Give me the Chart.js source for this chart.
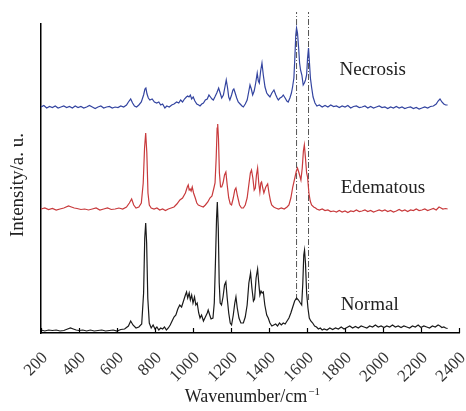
<!DOCTYPE html>
<html><head><meta charset="utf-8">
<script src="https://cdn.jsdelivr.net/npm/chart.js@4/dist/chart.umd.min.js"></script>
<style>html,body{margin:0;padding:0;background:#fff}#wrap{width:466px;height:411px}</style>
</head><body><div id="wrap"><canvas id="c" width="466" height="411"></canvas></div>
<script>
const tickValues = [200,400,600,800,1000,1200,1400,1600,1800,2000,2200,2400];
const tickLabels = ['200','400','600','800','1000','1200','1400','1600','1800','2000','2200','2400'];
const seriesNames = ['Necrosis','Edematous','Normal'];
const xTitle = 'Wavenumber/cm';
const xTitleSup = '\u22121';
const yTitle = 'Intensity/a. u.';
const markerWavenumbers = [1545, 1608];
const markerSpan = [33, 321];

const normal = [[200,3],[220,2],[240,3],[260,2.5],[280,3],[300,2],[320,2.5],[340,4],[355,5],[370,4],[385,3],[400,2.5],[420,3],[440,2],[460,3],[480,2],[500,2.5],[520,3],[540,2],[560,2.5],[580,3],[600,2],[620,3.5],[640,4],[660,7],[672,12],[684,8],[700,5],[715,6],[730,9],[740,40],[746,95],[751,110],[756,90],[762,35],[770,10],[780,5],[790,8],[800,4],[810,6],[820,3],[830,5],[840,4],[850,6],[860,3],[870,5],[880,8],[890,12],[900,16],[910,18],[920,24],[930,28],[940,26],[950,32],[960,38],[966,41],[972,35],[980,40],[986,33],[993,38],[1000,30],[1008,36],[1015,28],[1022,30],[1030,20],[1037,15],[1045,18],[1055,12],[1065,16],[1075,20],[1080,23],[1088,18],[1095,14],[1105,15],[1112,30],[1118,70],[1124,115],[1128,131],[1133,105],[1138,50],[1143,30],[1150,28],[1158,36],[1166,48],[1173,51],[1180,35],[1188,20],[1196,10],[1203,8],[1212,18],[1220,30],[1226,36],[1233,25],[1242,15],[1252,10],[1265,10],[1275,16],[1285,28],[1294,50],[1303,60],[1310,45],[1318,32],[1324,34],[1332,55],[1340,64],[1346,50],[1352,38],[1358,42],[1364,40],[1370,41],[1378,28],[1388,18],[1396,15],[1405,10],[1415,7],[1425,8],[1435,9],[1445,7],[1455,10],[1465,8],[1475,10],[1485,9],[1495,12],[1505,15],[1515,20],[1525,26],[1535,32],[1545,35],[1555,33],[1565,30],[1572,28],[1578,50],[1583,78],[1587,83],[1592,70],[1598,40],[1605,25],[1612,15],[1620,12],[1630,10],[1640,7],[1650,6],[1660,4],[1670,5],[1680,3],[1690,4],[1705,3],[1720,5],[1735,3.5],[1750,5],[1765,4],[1780,6],[1795,4],[1810,5.5],[1825,7],[1840,5],[1855,6.5],[1870,5],[1885,7],[1900,6],[1915,5],[1930,7],[1945,6],[1960,8],[1975,6],[1990,7],[2005,5.5],[2020,7],[2035,6],[2050,8],[2065,6],[2080,7],[2095,5.5],[2110,7],[2125,6],[2140,5],[2155,7],[2170,6],[2185,8],[2200,5.5],[2215,7],[2230,6],[2245,5],[2260,7],[2275,6],[2290,8],[2300,7],[2310,5.5],[2320,6],[2330,5],[2340,4.5]];

const edematous = [[200,124],[220,125],[240,123.5],[260,124.5],[280,123],[300,124],[320,125],[345,127],[360,126],[375,125],[390,124.5],[410,123.5],[430,124],[450,123],[470,124],[490,125],[510,123],[530,124],[550,125],[570,123.5],[590,124],[610,125],[630,124],[650,126],[665,130],[677,134],[688,128],[700,125],[715,126],[728,130],[738,150],[745,185],[751,200],[757,180],[763,140],[770,128],[780,125],[795,124],[810,125],[825,123],[840,124],[855,122.5],[870,124],[885,125],[900,126],[915,129],[931,133],[945,135],[960,140],[970,146],[975,148],[980,143],[985,144],[990,142],[996,146],[1003,140],[1012,135],[1020,130],[1028,128],[1040,127],[1054,126],[1065,128],[1078,131],[1089,135],[1100,137],[1110,145],[1116,150],[1122,175],[1127,205],[1130,209],[1134,195],[1139,160],[1145,146],[1151,146],[1158,150],[1166,158],[1173,161],[1180,148],[1188,135],[1196,129],[1203,128],[1212,135],[1220,143],[1226,145],[1234,137],[1245,128],[1255,125],[1265,125],[1275,128],[1285,135],[1295,150],[1302,160],[1308,163],[1315,155],[1322,143],[1328,145],[1334,158],[1340,165],[1346,150],[1352,141],[1357,150],[1361,151],[1367,145],[1373,140],[1383,146],[1393,149],[1400,140],[1408,132],[1414,128],[1425,126],[1435,125],[1450,124],[1465,125],[1480,124],[1495,126],[1505,128],[1515,135],[1525,146],[1537,156],[1544,162],[1550,165],[1558,160],[1568,153],[1575,165],[1581,182],[1586,188],[1592,175],[1598,160],[1603,156],[1610,140],[1617,132],[1624,128],[1635,126],[1645,125],[1651,124],[1665,123],[1680,124],[1695,122.5],[1710,123],[1725,121.5],[1740,122],[1755,121],[1770,122.5],[1785,121],[1800,122],[1815,120.5],[1830,122],[1845,121.5],[1860,123],[1875,121.5],[1890,122],[1905,123],[1920,121.5],[1935,122.5],[1950,121],[1965,122],[1980,123],[1995,122],[2010,123],[2025,121.5],[2040,122.5],[2055,121],[2070,122],[2085,123.5],[2100,122],[2115,123],[2130,121.5],[2145,123],[2160,122.5],[2175,124],[2190,122.5],[2205,123],[2220,124],[2235,122.5],[2250,123.5],[2265,124.5],[2280,123],[2295,126],[2305,125],[2315,124],[2330,124.5],[2340,124]];

const necrosis = [[200,226],[215,227.5],[230,225],[245,226.5],[260,225.5],[275,227],[290,225],[305,226],[320,227],[335,225.5],[350,226.5],[365,225],[380,227],[395,225.5],[410,226.5],[425,225],[440,226],[455,227.5],[470,226],[485,224.5],[500,226],[515,227],[530,225],[545,226],[560,226.5],[575,225],[590,226],[605,225.5],[620,227],[635,226],[650,228],[660,231],[672,234],[682,230],[692,227],[703,226],[715,228],[728,231],[740,238],[747,244],[752,245],[758,239],[765,235],[773,233],[785,234],[797,231],[809,230],[820,231],[830,228],[840,229],[852,225],[862,227],[875,226],[888,228],[900,229],[914,231],[925,230],[935,233],[945,231],[955,234],[965,236],[972,237],[979,236],[986,238],[993,234],[1001,236],[1010,232],[1020,229],[1030,228],[1037,227],[1046,229],[1055,230],[1065,233],[1075,234],[1084,238],[1092,236],[1100,234],[1107,233],[1115,236],[1125,240],[1135,245],[1143,240],[1151,235],[1160,238],[1168,246],[1175,253],[1182,245],[1188,236],[1194,233],[1203,238],[1210,243],[1215,244],[1222,240],[1230,235],[1238,231],[1248,229],[1258,227],[1265,226],[1275,229],[1285,233],[1292,240],[1300,248],[1307,244],[1314,238],[1322,242],[1330,250],[1338,260],[1344,252],[1349,250],[1356,262],[1363,270],[1370,258],[1379,246],[1388,240],[1396,238],[1405,236],[1415,240],[1426,243],[1436,238],[1443,235],[1449,233],[1458,235],[1467,236],[1475,238],[1485,235],[1494,232],[1501,231],[1510,235],[1518,240],[1524,246],[1531,255],[1536,275],[1541,298],[1545,305],[1550,300],[1556,285],[1561,270],[1566,263],[1573,258],[1580,248],[1586,250],[1592,253],[1598,258],[1603,275],[1608,285],[1613,270],[1618,255],[1624,246],[1632,236],[1642,230],[1652,227],[1665,228],[1680,226],[1695,227.5],[1710,226],[1725,228],[1740,226.5],[1755,227],[1770,225.5],[1785,227],[1800,226],[1815,227.5],[1830,225],[1845,226.5],[1860,227],[1875,225.5],[1890,226],[1905,227],[1920,225],[1935,226.5],[1950,225],[1965,226],[1980,227],[1995,225.5],[2010,226],[2025,224.5],[2040,226],[2055,225],[2070,226.5],[2085,225],[2100,226],[2115,224.5],[2130,225.5],[2145,226],[2160,224.5],[2175,225.5],[2190,224],[2205,225],[2220,226],[2235,225],[2250,226.5],[2265,227],[2280,229],[2290,232],[2300,234],[2310,231],[2320,229],[2330,228],[2340,228]];

const toPts = arr => arr.map(([x, y]) => ({x, y}));
const serif = "'Liberation Serif', 'Times New Roman', serif";

const lineStyle = c => ({borderColor: c, borderWidth: 1.2, pointRadius: 0, tension: 0, fill: false});
const markerDatasets = markerWavenumbers.map(w => ({
  data: [{x: w, y: markerSpan[0]}, {x: w, y: markerSpan[1]}],
  borderColor: '#555', borderWidth: 1, borderDash: [6, 2, 1, 2],
  pointRadius: 0, clip: false, fill: false
}));

const decor = {
  id: 'decor',
  afterDraw(chart) {
    const ctx = chart.ctx, xs = chart.scales.x, ys = chart.scales.y;
    ctx.save();
    ctx.strokeStyle = '#000'; ctx.lineWidth = 1.2;
    tickValues.forEach(v => {
      const px = Math.round(xs.getPixelForValue(v)) + 0.5;
      ctx.beginPath(); ctx.moveTo(px, ys.bottom); ctx.lineTo(px, ys.bottom - 5); ctx.stroke();
    });
    ctx.fillStyle = '#222';
    ctx.font = '19px ' + serif;
    ctx.textAlign = 'left'; ctx.textBaseline = 'alphabetic';
    const anchors = [[1771, 258], [1777, 140], [1777, 23]];
    seriesNames.forEach((n, i) => {
      ctx.fillText(n, xs.getPixelForValue(anchors[i][0]), ys.getPixelForValue(anchors[i][1]));
    });
    ctx.save();
    ctx.translate(xs.left - 23, ys.getPixelForValue(148));
    ctx.rotate(-Math.PI / 2);
    ctx.textAlign = 'center'; ctx.textBaseline = 'middle';
    ctx.font = '19px ' + serif;
    ctx.fillText(yTitle, 0, 0);
    ctx.restore();
    ctx.font = '18px ' + serif;
    const w1 = ctx.measureText(xTitle).width;
    ctx.font = '11px ' + serif;
    const w2 = ctx.measureText(xTitleSup).width;
    const cx = xs.getPixelForValue(1310);
    const baseY = chart.height - 9;
    let sx = cx - (w1 + w2) / 2;
    ctx.textAlign = 'left'; ctx.textBaseline = 'alphabetic';
    ctx.font = '18px ' + serif;
    ctx.fillText(xTitle, sx, baseY);
    ctx.font = '11px ' + serif;
    ctx.fillText(xTitleSup, sx + w1 + 1, baseY - 7);
    ctx.restore();
  }
};

new Chart(document.getElementById('c'), {
  type: 'line',
  data: {
    datasets: [
      Object.assign({label: seriesNames[0], data: toPts(necrosis)}, lineStyle('#3344a0')),
      Object.assign({label: seriesNames[1], data: toPts(edematous)}, lineStyle('#c83a3c')),
      Object.assign({label: seriesNames[2], data: toPts(normal)}, lineStyle('#1a1a1a')),
      ...markerDatasets
    ]
  },
  options: {
    responsive: false, animation: false, devicePixelRatio: 1,
    layout: {padding: {top: 24, right: 7, bottom: 0, left: 0}},
    plugins: {legend: {display: false}, tooltip: {enabled: false}},
    scales: {
      x: {
        type: 'linear', min: 200, max: 2400,
        afterBuildTicks: s => { s.ticks = tickValues.map(v => ({value: v})); },
        ticks: {
          autoSkip: false, minRotation: 45, maxRotation: 45, padding: 7, labelOffset: 4,
          color: '#333', font: {family: serif, size: 17},
          callback: v => tickLabels[tickValues.indexOf(v)]
        },
        grid: {display: false},
        border: {display: true, color: '#000', width: 1.5},
        afterFit: s => { s.height = 78; s.paddingLeft = 0; s.paddingRight = 0; }
      },
      y: {
        type: 'linear', min: 0, max: 309,
        ticks: {display: false},
        grid: {display: false},
        border: {display: true, color: '#000', width: 1.5},
        afterFit: s => { s.width = 41; s.paddingTop = 0; s.paddingBottom = 0; }
      }
    }
  },
  plugins: [decor]
});
</script>
</body></html>
